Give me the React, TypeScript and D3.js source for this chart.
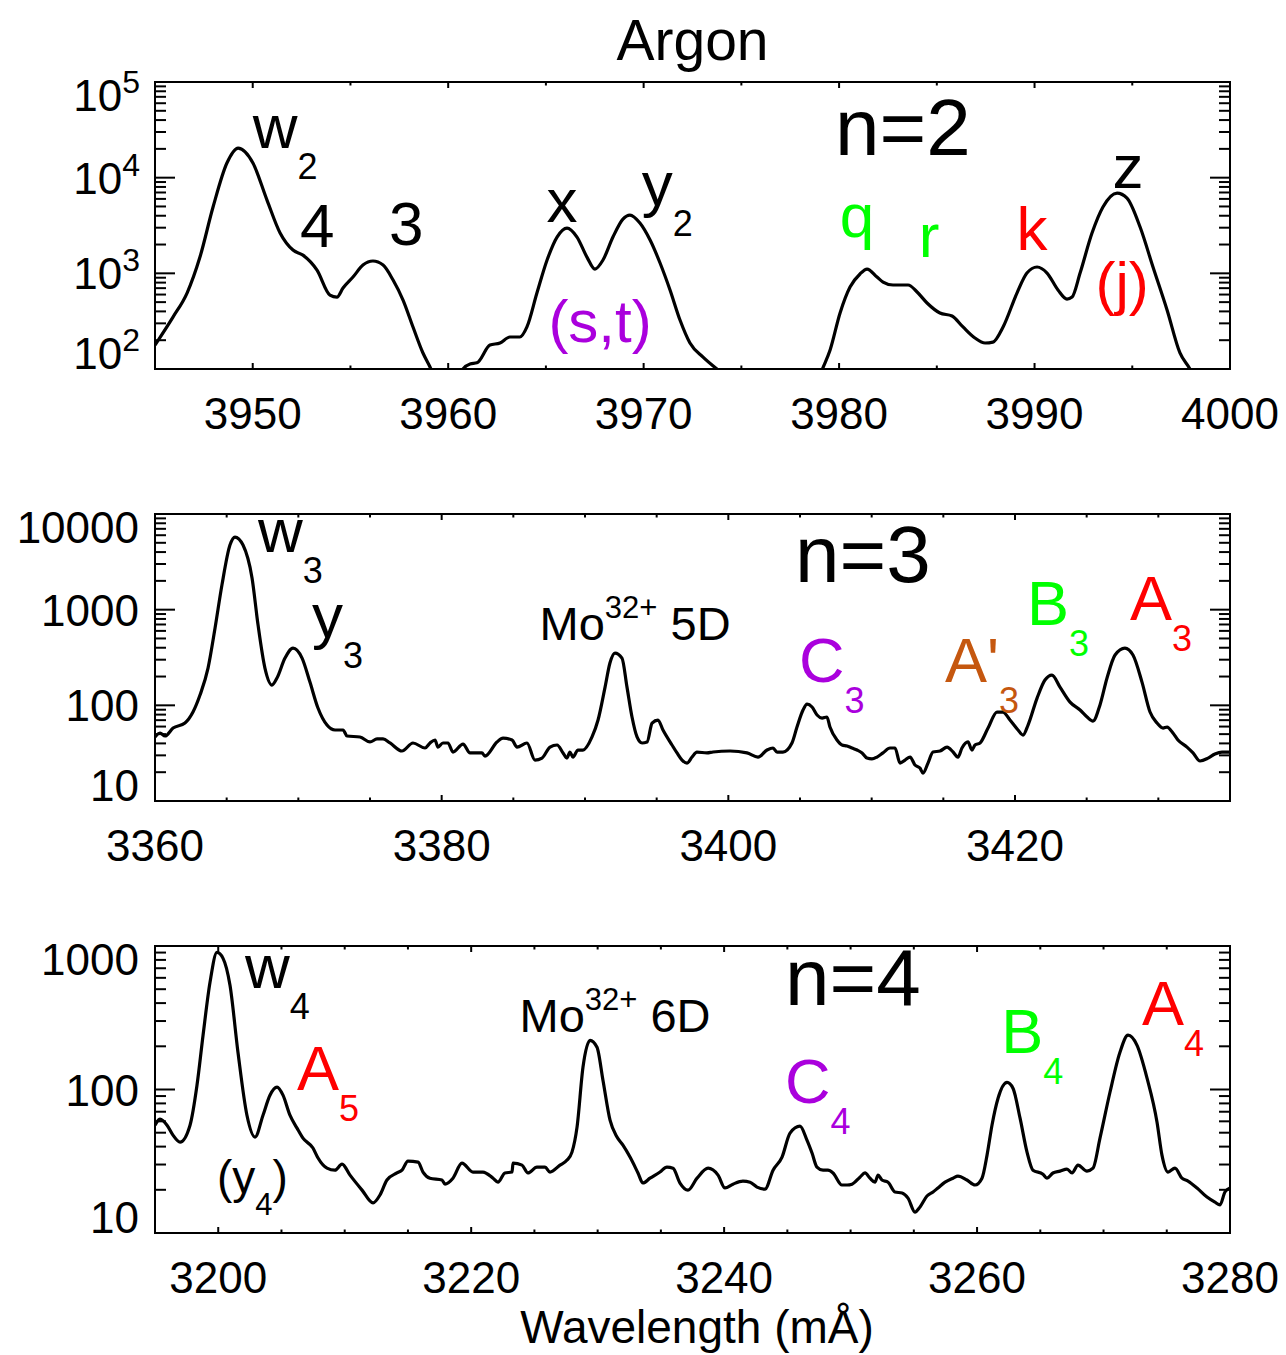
import React from "react";
import * as d3 from "d3";

const FONT = "'Liberation Sans', Arial, Helvetica, sans-serif";
const GREEN = "#00ff00";
const RED = "#ff0000";
const PURPLE = "#aa00dd";
const ORANGE = "#c5570f";
const BLACK = "#000000";

// ---------- n = 2 panel ----------
const n2Wave = [3945.0, 3945.92, 3946.64, 3947.3, 3947.97, 3948.68, 3949.25, 3950.01, 3950.73, 3951.4, 3952.06, 3952.57, 3953.29, 3953.95, 3954.31, 3954.62, 3955.13, 3955.64, 3956.15, 3956.67, 3957.18, 3957.69, 3958.2, 3958.71, 3959.07, 3959.58, 3960.2, 3960.76, 3961.12, 3961.47, 3962.14, 3962.65, 3963.16, 3963.67, 3964.03, 3964.54, 3965.06, 3965.57, 3966.08, 3966.59, 3967.1, 3967.51, 3967.92, 3968.43, 3968.94, 3969.3, 3969.81, 3970.33, 3970.84, 3971.35, 3971.86, 3972.37, 3973.04, 3973.75, 3974.93, 3976.5, 3978.0, 3978.77, 3979.13, 3979.54, 3980.05, 3980.56, 3981.07, 3981.43, 3981.94, 3982.25, 3982.76, 3983.53, 3983.99, 3984.5, 3985.16, 3985.78, 3986.34, 3986.95, 3987.47, 3987.87, 3988.39, 3989.1, 3989.61, 3990.13, 3990.64, 3991.2, 3991.66, 3991.92, 3992.33, 3992.94, 3993.5, 3994.22, 3994.73, 3995.4, 3996.06, 3996.78, 3997.44, 3997.95, 3998.47, 3999.2, 4000.0];
const n2Intensity = [178, 349, 622, 1479, 4930, 14220, 20370, 14220, 5830, 2640, 1750, 1550, 1080, 593, 565, 702, 915, 1220, 1345, 1220, 851, 526, 275, 147, 105, 60, 45, 100, 113, 116, 178, 187, 216, 216, 275, 622, 1377, 2395, 2972, 2395, 1479, 1109, 1377, 2395, 3690, 4064, 3355, 2228, 1282, 670, 325, 187, 133, 100, 68, 50, 50, 63, 98, 158, 385, 719, 984, 1109, 915, 811, 755, 755, 638, 490, 385, 358, 275, 211, 187, 191, 275, 622, 1007, 1164, 1007, 670, 538, 565, 1007, 2636, 4932, 6902, 6120, 3048, 1164, 414, 147, 100, 60, 40, 35];

// ---------- n = 3 panel ----------
const n3Wave = [3360.0, 3360.35, 3360.7, 3361.26, 3362.09, 3362.65, 3363.14, 3363.7, 3364.19, 3364.67, 3365.23, 3365.58, 3366.14, 3366.77, 3367.19, 3367.67, 3368.16, 3368.51, 3369.07, 3369.63, 3370.26, 3370.81, 3371.37, 3372.0, 3372.56, 3373.12, 3373.4, 3374.3, 3375.0, 3375.49, 3375.91, 3376.4, 3377.23, 3378.0, 3378.84, 3379.19, 3379.54, 3379.74, 3380.09, 3380.44, 3380.79, 3381.49, 3381.98, 3382.81, 3383.02, 3383.86, 3384.28, 3384.91, 3385.26, 3385.95, 3386.51, 3387.0, 3387.56, 3388.05, 3388.47, 3388.74, 3388.95, 3389.16, 3389.51, 3389.86, 3390.49, 3390.91, 3391.4, 3391.74, 3392.09, 3392.58, 3392.93, 3393.28, 3393.63, 3393.98, 3394.33, 3394.68, 3395.09, 3395.44, 3396.07, 3396.42, 3396.77, 3397.12, 3397.47, 3397.81, 3398.51, 3398.93, 3400.12, 3401.3, 3402.07, 3402.7, 3403.12, 3403.4, 3403.81, 3404.44, 3404.79, 3405.21, 3405.49, 3405.84, 3406.19, 3406.54, 3406.88, 3407.09, 3407.58, 3407.93, 3408.28, 3408.63, 3408.98, 3409.33, 3409.67, 3410.02, 3410.37, 3410.79, 3411.28, 3411.63, 3411.98, 3412.33, 3412.68, 3413.02, 3413.37, 3413.58, 3413.93, 3414.28, 3414.77, 3415.26, 3415.68, 3416.02, 3416.3, 3416.72, 3417.0, 3417.21, 3417.56, 3418.12, 3418.74, 3419.16, 3419.65, 3420.21, 3420.56, 3420.91, 3421.54, 3422.09, 3422.58, 3423.14, 3423.84, 3424.54, 3425.03, 3425.44, 3425.93, 3426.42, 3426.98, 3427.67, 3428.23, 3428.86, 3429.42, 3429.91, 3430.33, 3430.61, 3431.02, 3431.37, 3432.0, 3432.42, 3432.91, 3433.47, 3433.95, 3434.44, 3435.0];
const n3Intensity = [46.7, 51.4, 47.8, 57.9, 65.3, 85.1, 128, 245, 643, 1807, 4732, 5741, 4732, 2138, 690, 245, 163, 193, 312, 397, 312, 175, 93.7, 62.2, 55.2, 55.2, 47.8, 46.7, 41.4, 44.5, 44.5, 40.4, 33.3, 40.4, 35.8, 40.4, 43.4, 36.6, 40.4, 40.4, 32.5, 39.4, 31.8, 31.8, 29.5, 41.4, 45.5, 43.4, 36.6, 40.4, 26.8, 28.1, 36.6, 38.5, 31.8, 28.1, 32.5, 28.8, 34.1, 34.1, 46.7, 70.2, 155, 277, 352, 312, 155, 75.5, 46.7, 40.4, 41.4, 65.3, 70.2, 55.2, 38.5, 31.8, 26.8, 24.9, 28.8, 32.5, 31.8, 32.5, 33.3, 31.8, 28.8, 34.1, 35.8, 32.5, 32.5, 40.4, 59.3, 89.3, 103, 96, 79.2, 73.6, 75.5, 59.3, 43.4, 38.5, 37.6, 35.8, 34.1, 31.8, 28.1, 27.5, 28.8, 31.8, 35.8, 35.8, 24.9, 26.8, 28.8, 23.8, 22.1, 19.6, 24.9, 32.5, 33.3, 36.6, 32.5, 28.8, 35.8, 41.4, 34.1, 38.5, 40.4, 57.9, 85.1, 85.1, 70.2, 55.2, 48.9, 62.2, 119, 184, 207, 155, 108, 89.3, 75.5, 68.5, 101, 193, 336, 397, 336, 175, 85.1, 65.3, 57.9, 59.3, 51.4, 43.4, 36.6, 31.8, 26.2, 28.1, 31.0, 32.5, 32.5];

// ---------- n = 4 panel ----------
const n4Wave = [3195.0, 3195.4, 3195.95, 3196.42, 3196.98, 3197.77, 3198.32, 3198.8, 3199.35, 3199.9, 3200.38, 3200.93, 3201.56, 3202.27, 3202.91, 3203.54, 3204.09, 3204.65, 3205.12, 3205.67, 3206.23, 3206.7, 3207.49, 3207.89, 3208.6, 3209.23, 3209.79, 3210.42, 3211.37, 3212.24, 3212.79, 3213.34, 3214.13, 3214.53, 3215.0, 3215.8, 3216.19, 3216.74, 3217.69, 3217.93, 3218.56, 3219.27, 3220.14, 3220.93, 3221.73, 3222.12, 3222.67, 3223.23, 3223.31, 3224.02, 3224.49, 3225.2, 3225.84, 3226.23, 3227.02, 3227.58, 3227.97, 3228.37, 3228.84, 3229.4, 3229.95, 3230.42, 3230.98, 3231.53, 3232.0, 3232.56, 3233.19, 3233.58, 3234.14, 3234.93, 3235.48, 3235.96, 3236.51, 3237.14, 3237.86, 3238.73, 3239.52, 3240.07, 3240.7, 3241.49, 3242.05, 3242.6, 3243.23, 3243.87, 3244.58, 3245.21, 3246.0, 3246.55, 3246.95, 3247.34, 3247.82, 3248.21, 3248.61, 3249.32, 3249.72, 3250.11, 3250.74, 3251.14, 3251.53, 3251.93, 3252.17, 3252.48, 3252.96, 3253.51, 3254.07, 3254.54, 3255.09, 3255.49, 3256.04, 3256.52, 3256.91, 3257.47, 3258.1, 3258.49, 3259.2, 3259.84, 3260.39, 3260.79, 3261.18, 3261.66, 3262.37, 3262.84, 3263.4, 3263.95, 3264.42, 3265.21, 3265.53, 3266.0, 3266.56, 3267.11, 3267.51, 3267.98, 3268.69, 3269.17, 3269.72, 3270.51, 3271.3, 3271.94, 3272.65, 3273.44, 3274.23, 3274.62, 3275.1, 3275.65, 3276.2, 3276.68, 3277.39, 3278.18, 3278.81, 3279.21, 3279.6, 3280.0];
const n4Intensity = [56.4, 62.1, 56.4, 48.1, 43.0, 56.4, 107, 239, 558, 902, 820, 532, 182, 66.2, 46.6, 66.2, 91.3, 104, 91.3, 66.2, 53.8, 45.8, 39.1, 33.3, 28.3, 27.4, 30.2, 25.3, 19.9, 16.2, 18.4, 23.4, 26.2, 27.4, 31.7, 31.2, 26.6, 24.1, 23.4, 21.9, 24.1, 30.7, 26.6, 26.6, 24.1, 22.6, 26.2, 26.6, 30.7, 29.7, 26.2, 28.8, 28.8, 26.6, 29.7, 32.2, 36.6, 54.7, 143, 220, 197, 116, 61.1, 46.6, 40.9, 33.8, 26.2, 22.3, 24.1, 26.6, 28.8, 28.3, 22.3, 19.9, 24.1, 28.3, 25.3, 20.6, 21.9, 23.0, 22.6, 20.9, 20.2, 27.4, 33.8, 49.7, 55.6, 44.4, 36.1, 28.8, 27.4, 27.4, 26.2, 21.6, 21.6, 21.9, 24.5, 26.2, 24.1, 22.6, 25.3, 23.4, 22.6, 19.3, 19.0, 17.5, 14.0, 15.2, 18.1, 19.3, 20.6, 22.6, 24.1, 24.9, 23.4, 21.6, 24.1, 34.9, 56.4, 86.9, 112, 102, 63.1, 36.6, 27.4, 25.7, 24.1, 26.2, 27.0, 27.9, 26.2, 29.7, 27.0, 28.3, 45.8, 95.7, 182, 239, 203, 120, 59.2, 34.9, 26.6, 28.3, 24.1, 23.0, 20.6, 17.8, 16.4, 15.7, 19.3, 20.6];

// ---------- annotations (anchored in data coordinates) ----------
type Label = {
  text: string;
  sub?: string;
  sup?: string;
  tail?: string;
  wave: number;
  inten: number;
  color: string;
  size: number;
  anchor?: "start" | "middle" | "end";
};

const n2Labels: Label[] = [
  { text: "w", sub: "2", wave: 3950.0, inten: 20370, color: BLACK, size: 62 },
  { text: "4", wave: 3952.42, inten: 1884, color: BLACK, size: 62 },
  { text: "3", wave: 3956.97, inten: 1977, color: BLACK, size: 62 },
  { text: "x", wave: 3965.82, inten: 3436, color: BLACK, size: 62, anchor: "middle" },
  { text: "y", sub: "2", wave: 3969.9, inten: 5176, color: BLACK, size: 62 },
  { text: "(s,t)", wave: 3967.77, inten: 191, color: PURPLE, size: 60, anchor: "middle" },
  { text: "n=2", wave: 3979.79, inten: 17220, color: BLACK, size: 80 },
  { text: "q", wave: 3980.92, inten: 2393, color: GREEN, size: 62, anchor: "middle" },
  { text: "r", wave: 3984.6, inten: 1479, color: GREEN, size: 62, anchor: "middle" },
  { text: "k", wave: 3989.87, inten: 1750, color: RED, size: 62, anchor: "middle" },
  { text: "z", wave: 3994.78, inten: 7780, color: BLACK, size: 62, anchor: "middle" },
  { text: "(j)", wave: 3994.48, inten: 478, color: RED, size: 60, anchor: "middle" },
];

const n3Labels: Label[] = [
  { text: "w", sub: "3", wave: 3367.19, inten: 4000, color: BLACK, size: 62 },
  { text: "y", sub: "3", wave: 3370.95, inten: 517.6, color: BLACK, size: 62 },
  { text: "Mo", sup: "32+", tail: " 5D", wave: 3386.83, inten: 481, color: BLACK, size: 47 },
  { text: "n=3", wave: 3404.65, inten: 1942, color: BLACK, size: 80 },
  { text: "C", sub: "3", wave: 3404.93, inten: 175, color: PURPLE, size: 63 },
  { text: "A'", sub: "3", wave: 3415.12, inten: 175, color: ORANGE, size: 63 },
  { text: "B", sub: "3", wave: 3420.84, inten: 690, color: GREEN, size: 63 },
  { text: "A", sub: "3", wave: 3428.02, inten: 778, color: RED, size: 63 },
];

const n4Labels: Label[] = [
  { text: "w", sub: "4", wave: 3202.12, inten: 507, color: BLACK, size: 62 },
  { text: "A", sub: "5", wave: 3206.23, inten: 98.9, color: RED, size: 63 },
  { text: "(y", sub: "4", tail: ")", wave: 3199.9, inten: 19.0, color: BLACK, size: 46 },
  { text: "Mo", sup: "32+", tail: " 6D", wave: 3223.82, inten: 250, color: BLACK, size: 47 },
  { text: "n=4", wave: 3244.81, inten: 386, color: BLACK, size: 80 },
  { text: "C", sub: "4", wave: 3244.81, inten: 80.3, color: PURPLE, size: 63 },
  { text: "B", sub: "4", wave: 3261.92, inten: 179, color: GREEN, size: 63 },
  { text: "A", sub: "4", wave: 3273.04, inten: 280, color: RED, size: 63 },
];

const W = 1286;
const H = 1355;
const LEFT = 155;
const RIGHT = 1230;

type PanelProps = {
  id: string;
  top: number;
  bottom: number;
  xDomain: [number, number];
  yDomain: [number, number];
  xMajorStep: number;
  wave: number[];
  inten: number[];
  labels: Label[];
  powerLabels: boolean;
};

function LabelText({ l, x, y }: { l: Label; x: d3.ScaleLinear<number, number>; y: d3.ScaleLogarithmic<number, number> }) {
  const big = l.size >= 60;
  const small = big ? 36 : 31;
  const subDy = big ? 31 : 22;
  const supDy = 22;
  return (
    <text
      x={x(l.wave)}
      y={y(l.inten)}
      fontSize={l.size}
      fill={l.color}
      fontFamily={FONT}
      textAnchor={l.anchor || "start"}
    >
      <tspan>{l.text}</tspan>
      {l.sub && (
        <tspan fontSize={small} dy={subDy}>
          {l.sub}
        </tspan>
      )}
      {l.sup && (
        <tspan fontSize={small} dy={-supDy}>
          {l.sup}
        </tspan>
      )}
      {l.tail && (
        <tspan dy={l.sup ? supDy : -subDy} style={{ whiteSpace: "pre" }}>
          {l.tail}
        </tspan>
      )}
    </text>
  );
}

function Panel(p: PanelProps) {
  const x = d3.scaleLinear().domain(p.xDomain).range([LEFT, RIGHT]);
  const y = d3.scaleLog().domain(p.yDomain).range([p.bottom, p.top]);
  const line = d3
    .line<number>()
    .x((_, i) => x(p.wave[i]))
    .y((d) => y(d))
    .curve(d3.curveMonotoneX);

  const eps = 1e-6;
  const xMajor = d3.range(Math.ceil(p.xDomain[0] / p.xMajorStep) * p.xMajorStep, p.xDomain[1] + eps, p.xMajorStep);
  const xMinor = d3
    .range(Math.ceil(p.xDomain[0] / 5) * 5, p.xDomain[1] + eps, 5)
    .filter((v) => !xMajor.some((m) => Math.abs(m - v) < eps));
  const e0 = Math.round(Math.log10(p.yDomain[0]));
  const e1 = Math.round(Math.log10(p.yDomain[1]));
  const yMajor = d3.range(e0, e1 + 1).map((e) => Math.pow(10, e));
  const yMinor: number[] = [];
  for (let e = e0; e < e1; e++) for (let k = 2; k <= 9; k++) yMinor.push(k * Math.pow(10, e));

  const MAJ_X = 6, MIN_X = 3.5, MAJ_Y = 20, MIN_Y = 11;
  const tickStyle = { stroke: "#000", strokeWidth: 2 };

  return (
    <g>
      <defs>
        <clipPath id={p.id}>
          <rect x={LEFT} y={p.top} width={RIGHT - LEFT} height={p.bottom - p.top} />
        </clipPath>
      </defs>
      <path
        d={line(p.inten) || ""}
        fill="none"
        stroke="#000"
        strokeWidth={3.2}
        strokeLinejoin="round"
        clipPath={`url(#${p.id})`}
      />
      {xMajor.map((v) => (
        <g key={"xM" + v}>
          <line x1={x(v)} x2={x(v)} y1={p.bottom} y2={p.bottom - MAJ_X} {...tickStyle} />
          <line x1={x(v)} x2={x(v)} y1={p.top} y2={p.top + MAJ_X} {...tickStyle} />
          <text x={x(v)} y={p.bottom + 60} fontSize={44} fontFamily={FONT} textAnchor="middle" fill="#000">
            {d3.format("d")(v)}
          </text>
        </g>
      ))}
      {xMinor.map((v) => (
        <g key={"xm" + v}>
          <line x1={x(v)} x2={x(v)} y1={p.bottom} y2={p.bottom - MIN_X} {...tickStyle} />
          <line x1={x(v)} x2={x(v)} y1={p.top} y2={p.top + MIN_X} {...tickStyle} />
        </g>
      ))}
      {yMajor.map((v, i) => {
        const ty = y(v);
        const base = Math.max(p.top + 29, Math.min(p.bottom, ty + 16));
        const e = e0 + i;
        return (
          <g key={"yM" + v}>
            <line x1={LEFT} x2={LEFT + MAJ_Y} y1={ty} y2={ty} {...tickStyle} />
            <line x1={RIGHT} x2={RIGHT - MAJ_Y} y1={ty} y2={ty} {...tickStyle} />
            {p.powerLabels ? (
              <text x={140} y={base} fontSize={44} fontFamily={FONT} textAnchor="end" fill="#000">
                <tspan>10</tspan>
                <tspan fontSize={32} dy={-18}>
                  {String(e)}
                </tspan>
              </text>
            ) : (
              <text x={139} y={base} fontSize={44} fontFamily={FONT} textAnchor="end" fill="#000">
                {d3.format("d")(v)}
              </text>
            )}
          </g>
        );
      })}
      {yMinor.map((v) => (
        <g key={"ym" + v}>
          <line x1={LEFT} x2={LEFT + MIN_Y} y1={y(v)} y2={y(v)} {...tickStyle} />
          <line x1={RIGHT} x2={RIGHT - MIN_Y} y1={y(v)} y2={y(v)} {...tickStyle} />
        </g>
      ))}
      <rect x={LEFT} y={p.top} width={RIGHT - LEFT} height={p.bottom - p.top} fill="none" stroke="#000" strokeWidth={2} />
      {p.labels.map((l, i) => (
        <LabelText key={i} l={l} x={x} y={y} />
      ))}
    </g>
  );
}

export default function App() {
  return (
    <svg
      width={W}
      height={H}
      viewBox={`0 0 ${W} ${H}`}
      style={{ position: "absolute", left: 0, top: 0, background: "#fff" }}
    >
      <rect x={0} y={0} width={W} height={H} fill="#fff" />
      <text x={(LEFT + RIGHT) / 2} y={60} fontSize={57} fontFamily={FONT} textAnchor="middle" fill="#000">
        Argon
      </text>
      <Panel
        id="clip-n2"
        top={82}
        bottom={369}
        xDomain={[3945, 4000]}
        yDomain={[100, 100000]}
        xMajorStep={10}
        wave={n2Wave}
        inten={n2Intensity}
        labels={n2Labels}
        powerLabels={true}
      />
      <Panel
        id="clip-n3"
        top={514}
        bottom={801}
        xDomain={[3360, 3435]}
        yDomain={[10, 10000]}
        xMajorStep={20}
        wave={n3Wave}
        inten={n3Intensity}
        labels={n3Labels}
        powerLabels={false}
      />
      <Panel
        id="clip-n4"
        top={946}
        bottom={1233}
        xDomain={[3195, 3280]}
        yDomain={[10, 1000]}
        xMajorStep={20}
        wave={n4Wave}
        inten={n4Intensity}
        labels={n4Labels}
        powerLabels={false}
      />
      <text x={697} y={1343} fontSize={46} fontFamily={FONT} textAnchor="middle" fill="#000">
        Wavelength (mÅ)
      </text>
    </svg>
  );
}
